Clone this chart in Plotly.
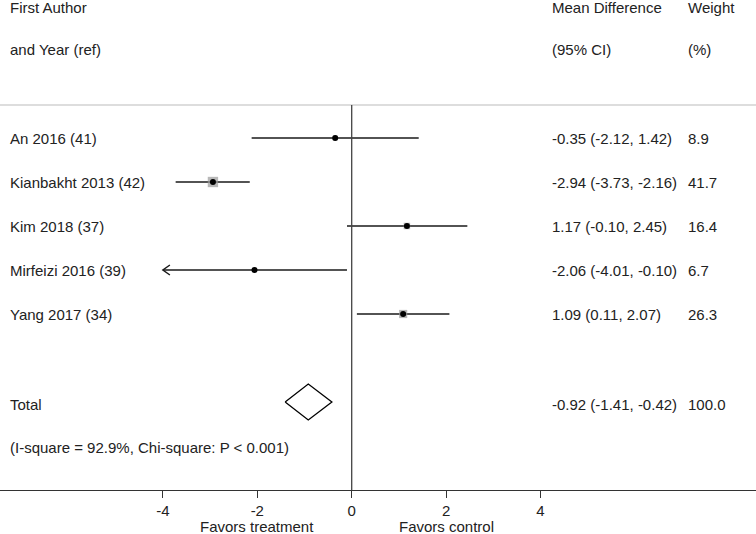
import plotly.graph_objects as go
import numpy as np

studies = ["An 2016 (41)", "Kianbakht 2013 (42)", "Kim 2018 (37)", "Mirfeizi 2016 (39)", "Yang 2017 (34)"]
md = [-0.35, -2.94, 1.17, -2.06, 1.09]
lo = [-2.12, -3.73, -0.10, -4.01, 0.11]
hi = [1.42, -2.16, 2.45, -0.10, 2.07]
weight = [8.9, 41.7, 16.4, 6.7, 26.3]
total = [-0.92, -1.41, -0.42]
total_label = "Total"
het_label = "(I-square = 92.9%, Chi-square: P < 0.001)"
tick_vals = [-4, -2, 0, 2, 4]
axis_limits = [-4, 4]

W, H = 756, 534
PX0 = 351.7
PXU = 47.2
BOTTOM = 490
FONT = "Liberation Sans, Arial, sans-serif"
TXT = "#222222"
FS = 15

xr = [-PX0 / PXU, (W - PX0) / PXU]

row_y = [138 + 44 * i for i in range(len(studies))]
total_y = 402
het_y = 447

fig = go.Figure()

for i in range(len(studies)):
    a = max(lo[i], axis_limits[0])
    b = min(hi[i], axis_limits[1])
    fig.add_trace(go.Scatter(x=[a, b], y=[row_y[i], row_y[i]], mode="lines",
                             line=dict(color="#1a1a1a", width=1.5), hoverinfo="skip", showlegend=False))
    if lo[i] < axis_limits[0]:
        dx = 7 / PXU
        fig.add_trace(go.Scatter(x=[a + dx, a, a + dx], y=[row_y[i] - 5, row_y[i], row_y[i] + 5],
                                 mode="lines", line=dict(color="#1a1a1a", width=1.5),
                                 hoverinfo="skip", showlegend=False))

fig.add_trace(go.Scatter(x=md, y=row_y, mode="markers",
                         marker=dict(symbol="square", color="#9a9a9a",
                                     size=[1.6 * np.sqrt(w) for w in weight], line=dict(width=0)),
                         hoverinfo="skip", showlegend=False))
fig.add_trace(go.Scatter(x=md, y=row_y, mode="markers",
                         marker=dict(symbol="circle", color="#000000", size=6, line=dict(width=0)),
                         hoverinfo="skip", showlegend=False))

fig.add_trace(go.Scatter(x=[total[1], total[0], total[2], total[0], total[1]],
                         y=[total_y, total_y - 18, total_y, total_y + 18, total_y],
                         mode="lines", fill="toself", fillcolor="white",
                         line=dict(color="#000000", width=1.3), hoverinfo="skip", showlegend=False))

shapes = [
    dict(type="line", xref="paper", yref="y", x0=0, x1=1, y0=105, y1=105,
         line=dict(color="#bbbbbb", width=1)),
    dict(type="line", xref="x", yref="y", x0=0, x1=0, y0=105, y1=BOTTOM,
         line=dict(color="#444444", width=1.3)),
]

ann = []
def txt(xpx, ypx, s):
    ann.append(dict(x=xpx / W, xref="paper", y=ypx, yref="y", text=s, showarrow=False,
                    xanchor="left", yanchor="middle", font=dict(family=FONT, size=FS, color=TXT)))

txt(8, 7, "First Author")
txt(8, 49, "and Year (ref)")
txt(550, 7, "Mean Difference")
txt(550, 49, "(95% CI)")
txt(686, 7, "Weight")
txt(686, 49, "(%)")
for i in range(len(studies)):
    txt(8, row_y[i], studies[i])
    txt(550, row_y[i], f"{md[i]:.2f} ({lo[i]:.2f}, {hi[i]:.2f})")
    txt(686, row_y[i], f"{weight[i]:.1f}")
txt(8, 404, total_label)
txt(550, 404, f"{total[0]:.2f} ({total[1]:.2f}, {total[2]:.2f})")
txt(686, 404, f"{sum(weight):.1f}")
txt(8, het_y, het_label)

for xv, s in [(-2, "Favors treatment"), (2, "Favors control")]:
    ann.append(dict(x=xv, xref="x", y=-(526 - BOTTOM) / BOTTOM, yref="paper", text=s,
                    showarrow=False, xanchor="center", yanchor="middle",
                    font=dict(family=FONT, size=FS, color=TXT)))

fig.update_layout(
    width=W, height=H, margin=dict(l=0, r=0, t=0, b=H - BOTTOM),
    paper_bgcolor="white", plot_bgcolor="white",
    shapes=shapes, annotations=ann,
    xaxis=dict(range=xr, tickvals=tick_vals, ticktext=[str(v) for v in tick_vals],
               ticks="outside", ticklen=7, tickcolor="#333333", tickwidth=1,
               showline=True, linecolor="#333333", linewidth=1,
               showgrid=False, zeroline=False,
               tickfont=dict(family=FONT, size=FS, color=TXT), fixedrange=True),
    yaxis=dict(range=[BOTTOM, 0], visible=False, showgrid=False, zeroline=False, fixedrange=True),
)

fig.write_html("out.html", config={"displayModeBar": False},
               post_script="document.body.style.margin='0px';document.body.style.overflow='hidden';")
